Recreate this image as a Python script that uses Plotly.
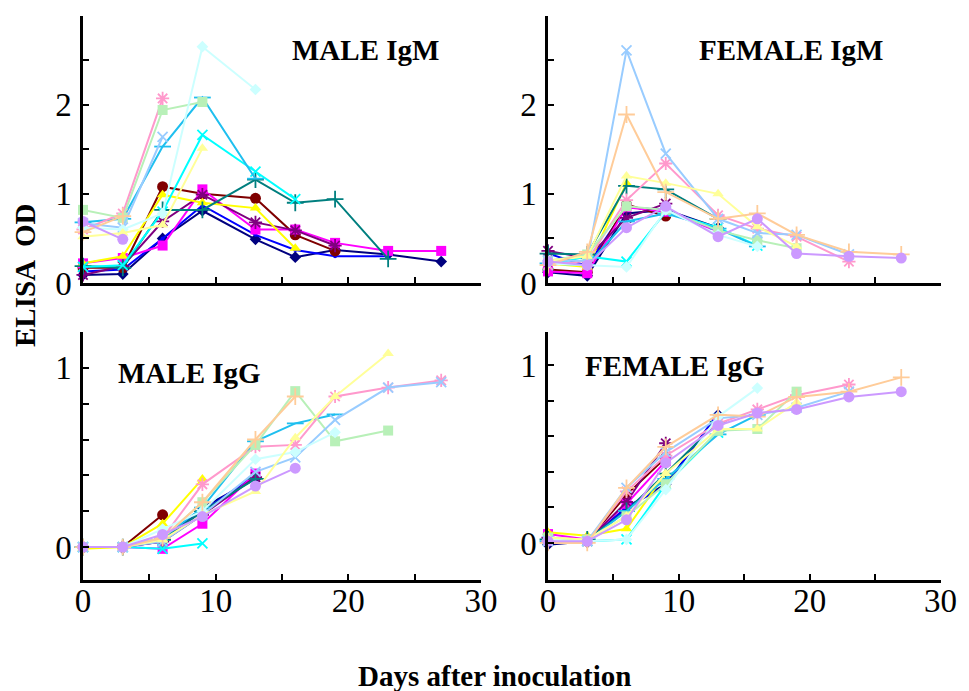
import plotly.graph_objects as go

DAYS = [0, 3, 6, 9, 13, 16, 19, 23, 27]

SERIES_NAMES = ["navy", "blue", "maroon", "magenta", "purple", "yellow", "teal", "cyan",
                "deepskyblue", "pink", "lightgreen", "lightblue", "lightcyan",
                "lightyellow", "peach", "lavender"]
COLORS = ["#00007F", "#0000FF", "#7F0000", "#FF00FF", "#7F007F", "#FFFF00", "#007F7F", "#00FFFF",
          "#1FBFEF", "#FF99CC", "#B8F0B8", "#99CCFF", "#CCFFFF", "#FFFF99", "#FFCC99", "#CC99FF"]
SYMBOLS = ["diamond", "circle", "circle", "square", "asterisk-open", "triangle-up",
           "cross-thin-open", "x-thin-open", "line-ew-open", "asterisk-open", "square",
           "x-thin-open", "diamond", "triangle-up", "cross-thin-open", "circle"]
SIZES = [9, 4, 11, 10, 11, 10, 12, 10, 12, 11, 10, 10, 9, 10, 12, 11]

# MALE IgM
mi_navy = [0.09, 0.10, 0.50, 0.81, 0.49, 0.29, 0.37, 0.32, 0.24]
mi_blue = [0.13, 0.15, 0.50, 0.87, 0.54, 0.37, 0.30, 0.30]
mi_maroon = [0.17, 0.17, 1.08, 1.00, 0.95, 0.54, 0.36]
mi_magenta = [0.22, 0.28, 0.42, 1.05, 0.60, 0.60, 0.45, 0.36, 0.36]
mi_purple = [0.09, 0.19, 0.69, 0.99, 0.68, 0.59, 0.42]
mi_yellow = [0.22, 0.30, 0.99, 0.90, 0.84, 0.39]
mi_teal = [0.19, 0.17, 0.82, 0.82, 1.16, 0.90, 0.94, 0.27]
mi_cyan = [0.18, 0.20, 0.80, 1.66, 1.25, 0.94]
mi_deepskyblue = [0.68, 0.72, 1.53, 2.08, 1.17]
mi_pink = [0.60, 0.78, 2.07]
mi_lightgreen = [0.82, 0.73, 1.94, 2.03]
mi_lightblue = [0.67, 0.62, 1.64]
mi_lightcyan = [0.62, 0.60, 0.78, 2.65, 2.17]
mi_lightyellow = [0.52, 0.56, 0.65, 1.51]
mi_peach = [0.57, 0.75]
mi_lavender = [0.69, 0.49]

# FEMALE IgM
fi_navy = [0.12, 0.08, 0.78, 0.82, 0.62]
fi_blue = [0.33, 0.19, 0.85, 0.82, 0.60]
fi_maroon = [0.15, 0.12, 0.88, 0.75]
fi_magenta = [0.13, 0.11, 0.85, 0.80, 0.58]
fi_purple = [0.36, 0.28, 0.73, 0.89]
fi_yellow = [0.22, 0.18, 1.12]
fi_teal = [0.33, 0.32, 1.09, 1.05, 0.72]
fi_cyan = [0.20, 0.30, 0.24, 0.80, 0.62, 0.42]
fi_deepskyblue = [0.22, 0.20, 0.69, 0.78, 0.61, 0.41]
fi_pink = [0.20, 0.25, 0.93, 1.34, 0.76, 0.61, 0.52, 0.24]
fi_lightgreen = [0.25, 0.32, 0.86, 0.82, 0.59, 0.48, 0.39]
fi_lightblue = [0.25, 0.25, 2.61, 1.45, 0.72, 0.56, 0.54, 0.32]
fi_lightcyan = [0.22, 0.20, 0.18, 0.82, 0.54, 0.41]
fi_lightyellow = [0.25, 0.30, 1.20, 1.12, 1.00, 0.63, 0.41]
fi_peach = [0.20, 0.35, 1.89, 1.02, 0.72, 0.78, 0.54, 0.35, 0.32]
fi_lavender = [0.24, 0.20, 0.62, 0.86, 0.52, 0.72, 0.33, 0.30, 0.28]

# MALE IgG
mg_navy = [0.0, 0.0, 0.03, 0.22, 0.38]
mg_blue = [0.0, 0.0, 0.04, 0.20, 0.40]
mg_maroon = [0.0, 0.0, 0.18]
mg_magenta = [0.0, 0.0, -0.01, 0.13, 0.41]
mg_purple = [0.0, 0.0, 0.03, 0.18, 0.39]
mg_yellow = [-0.01, 0.0, 0.13, 0.38]
mg_teal = [0.0, 0.0, 0.04, 0.20, 0.38]
mg_cyan = [0.0, 0.0, -0.01, 0.02]
mg_deepskyblue = [0.0, 0.0, 0.05, 0.22, 0.59, 0.69, 0.74]
mg_pink = [0.0, 0.0, 0.05, 0.35, 0.56, 0.57, 0.84, 0.89, 0.93]
mg_lightgreen = [0.0, 0.0, 0.05, 0.25, 0.57, 0.87, 0.59, 0.65]
mg_lightblue = [0.0, 0.0, 0.03, 0.18, 0.42, 0.50, 0.71, 0.89, 0.92]
mg_lightcyan = [0.0, 0.0, 0.10, 0.20, 0.49, 0.53, 0.64]
mg_lightyellow = [0.0, 0.0, 0.04, 0.18, 0.31, 0.61, 0.84, 1.08]
mg_peach = [0.0, 0.0, 0.05, 0.25, 0.60, 0.84]
mg_lavender = [0.0, 0.0, 0.07, 0.17, 0.34, 0.44]

# FEMALE IgG
fg_navy = [-0.01, 0.01, 0.20, 0.33, 0.72]
fg_blue = [0.01, 0.01, 0.20, 0.32, 0.73]
fg_maroon = [0.02, 0.01, 0.27, 0.48]
fg_magenta = [0.05, 0.02, 0.22, 0.46]
fg_purple = [0.03, 0.01, 0.23, 0.56]
fg_yellow = [0.06, 0.04, 0.08, 0.39]
fg_teal = [0.02, 0.02, 0.18, 0.39, 0.68]
fg_cyan = [0.02, 0.01, 0.02, 0.33, 0.62]
fg_deepskyblue = [0.01, 0.01, 0.18, 0.36, 0.61, 0.72]
fg_pink = [0.01, 0.01, 0.29, 0.49, 0.67, 0.75, 0.83, 0.89]
fg_lightgreen = [0.03, 0.02, 0.15, 0.33, 0.63, 0.64, 0.85]
fg_lightblue = [0.01, 0.01, 0.31, 0.51, 0.70, 0.72, 0.76, 0.85]
fg_lightcyan = [0.02, 0.01, 0.02, 0.30, 0.71, 0.87]
fg_lightyellow = [0.03, 0.02, 0.15, 0.39, 0.64, 0.64, 0.79]
fg_peach = [0.0, 0.0, 0.31, 0.54, 0.72, 0.71, 0.82, 0.85, 0.93]
fg_lavender = [0.01, 0.01, 0.13, 0.45, 0.66, 0.73, 0.75, 0.82, 0.85]

PANELS = [
    ("mi", "x", "y", "MALE IgM"),
    ("fi", "x2", "y2", "FEMALE IgM"),
    ("mg", "x3", "y3", "MALE IgG"),
    ("fg", "x4", "y4", "FEMALE IgG"),
]

fig = go.Figure()
g = globals()
for prefix, xa, ya, _ in PANELS:
    for i, name in enumerate(SERIES_NAMES):
        vals = g[f"{prefix}_{name}"]
        sym = SYMBOLS[i]
        opensym = sym.endswith("open")
        marker = dict(symbol=sym, size=SIZES[i], color=COLORS[i],
                      line=dict(color=COLORS[i], width=1.8 if opensym else 0))
        fig.add_trace(go.Scatter(
            x=DAYS[:len(vals)], y=vals, xaxis=xa, yaxis=ya, mode="lines+markers",
            line=dict(color=COLORS[i], width=2), marker=marker, showlegend=False,
            cliponaxis=False))

# page body has an 8px margin; figure sized so it fills the 969x691 window exactly
OFF = 8
W, H = 969 - OFF, 691 - OFF
def px(v):
    return (v - OFF) / W
def py(v):
    return 1 - (v - OFF) / H

FONT = "Liberation Serif"
axis_common = dict(showline=True, linecolor="black", linewidth=2.5, ticks="inside",
                   ticklen=6, tickwidth=2, tickcolor="black", showgrid=False, zeroline=False,
                   automargin=False,
                   tickfont=dict(family=FONT, size=33, color="black"))
xt = dict(tickvals=[0, 5, 10, 15, 20, 25, 30], range=[0, 30])
xlabels = ["0", "", "10", "", "20", "", "30"]

LEFT = [px(83), px(481)]
RIGHT = [px(548), px(940.5)]
TOP = [py(283), py(15.5)]
BOT = [py(580), py(332)]

fig.update_layout(
    template="none",
    width=W, height=H, margin=dict(l=0, r=0, t=0, b=0, pad=0, autoexpand=False),
    paper_bgcolor="white", plot_bgcolor="white",
    xaxis=dict(domain=LEFT, anchor="y", showticklabels=False, **xt, **axis_common),
    xaxis2=dict(domain=RIGHT, anchor="y2", showticklabels=False, **xt, **axis_common),
    xaxis3=dict(domain=LEFT, anchor="y3", ticktext=xlabels, ticklabelstandoff=-10,
                **xt, **axis_common),
    xaxis4=dict(domain=RIGHT, anchor="y4", ticktext=xlabels, ticklabelstandoff=-10,
                **xt, **axis_common),
    yaxis=dict(domain=TOP, anchor="x", range=[0, 3], tickvals=[0, 0.5, 1, 1.5, 2, 2.5],
               ticktext=["0", "", "1", "", "2", ""], ticklabelstandoff=2, **axis_common),
    yaxis2=dict(domain=TOP, anchor="x2", range=[0, 3], tickvals=[0, 0.5, 1, 1.5, 2, 2.5],
                ticktext=["0", "", "1", "", "2", ""], ticklabelstandoff=2, **axis_common),
    yaxis3=dict(domain=BOT, anchor="x3", range=[-0.184, 1.2],
                tickvals=[0, 0.2, 0.4, 0.6, 0.8, 1.0], ticktext=["0", "", "", "", "", "1"],
                ticklabelstandoff=2, **axis_common),
    yaxis4=dict(domain=BOT, anchor="x4", range=[-0.208, 1.185],
                tickvals=[0, 0.2, 0.4, 0.6, 0.8, 1.0], ticktext=["0", "", "", "", "", "1"],
                ticklabelstandoff=2, **axis_common),
)

title_pos = {"MALE IgM": (365, 50), "FEMALE IgM": (791, 50),
             "MALE IgG": (189, 373), "FEMALE IgG": (675, 366)}
for _, _, _, title in PANELS:
    cx, cy = title_pos[title]
    fig.add_annotation(x=px(cx), y=py(cy), xref="paper", yref="paper", text=f"<b>{title}</b>",
                       showarrow=False, xanchor="center", yanchor="middle",
                       font=dict(family=FONT, size=29, color="black"))

fig.add_annotation(x=px(25), y=py(276), xref="paper", yref="paper", text="<b>ELISA  OD</b>",
                   textangle=-90, showarrow=False, xanchor="center", yanchor="middle",
                   font=dict(family=FONT, size=29, color="black"))
fig.add_annotation(x=px(494), y=py(676), xref="paper", yref="paper",
                   text="<b>Days after inoculation</b>", showarrow=False,
                   xanchor="center", yanchor="middle",
                   font=dict(family=FONT, size=29, color="black"))

fig.write_html("out.html")
